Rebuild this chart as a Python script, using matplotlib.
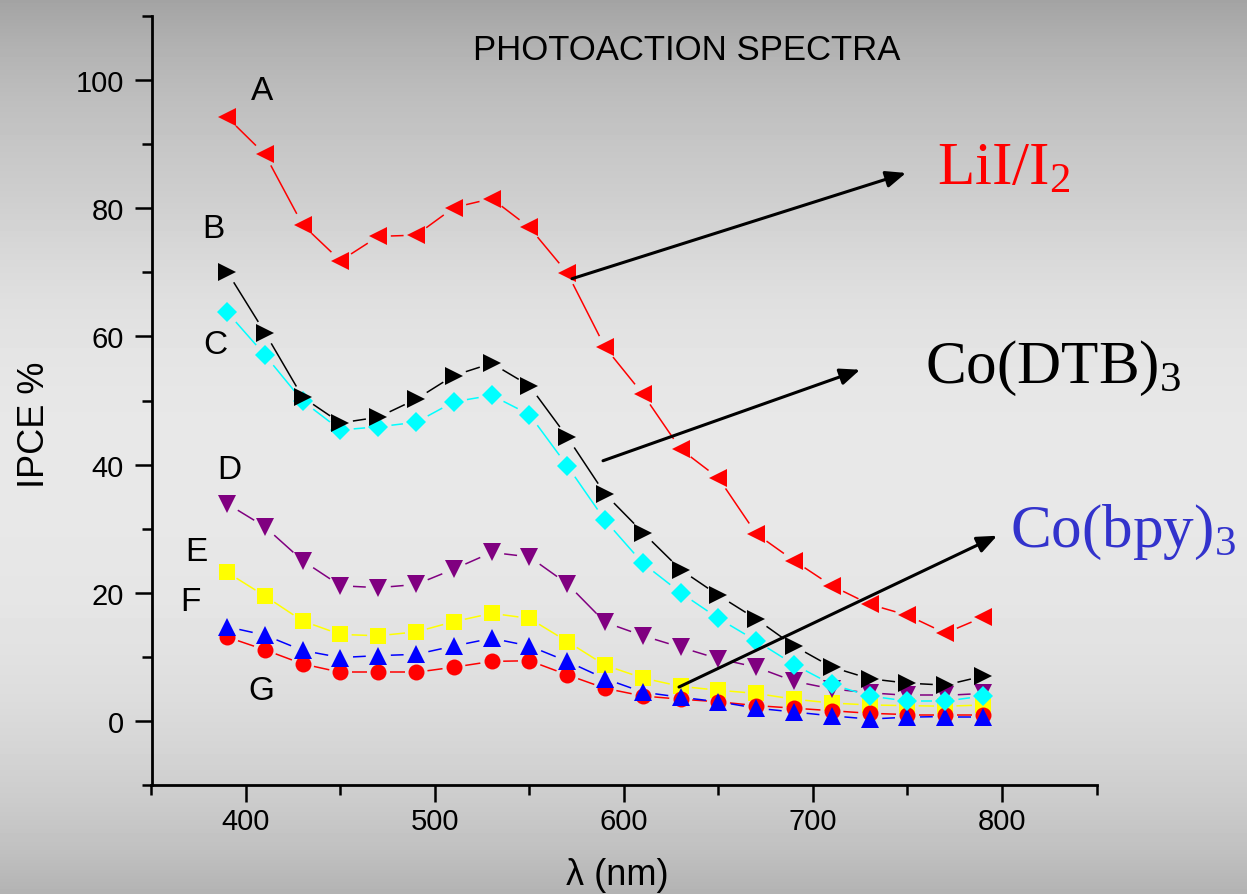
import numpy as np
import matplotlib
matplotlib.use('Agg')
import matplotlib.pyplot as plt
from matplotlib.collections import LineCollection
from matplotlib.ticker import MultipleLocator

plt.rcParams['font.family'] = ['Liberation Sans', 'DejaVu Sans']
plt.rcParams['mathtext.fontset'] = 'custom'
plt.rcParams['mathtext.rm'] = 'Liberation Serif'
plt.rcParams['mathtext.it'] = 'Liberation Serif:italic'

# ---------------- data ----------------
wavelength = [390, 410, 430, 450, 470, 490, 510, 530, 550, 570, 590,
              610, 630, 650, 670, 690, 710, 730, 750, 770, 790]
ipce_A = [94.2, 88.4, 77.4, 71.8, 75.6, 75.8, 80.1, 81.5, 77.0, 69.9, 58.3,
          51.0, 42.4, 37.9, 29.2, 25.0, 21.1, 18.2, 16.5, 13.7, 16.2]
ipce_B = [70.1, 60.6, 50.5, 46.5, 47.4, 50.2, 53.9, 55.8, 52.3, 44.3, 35.4,
          29.4, 23.6, 19.6, 15.9, 11.7, 8.4, 6.6, 5.9, 5.6, 7.0]
ipce_C = [63.8, 57.1, 49.9, 45.4, 45.9, 46.6, 49.8, 50.8, 47.8, 39.8, 31.3,
          24.6, 20.0, 16.0, 12.5, 8.8, 5.7, 3.9, 3.1, 3.1, 3.9]
ipce_D = [33.9, 30.3, 25.0, 21.1, 20.8, 21.3, 23.7, 26.3, 25.6, 21.4, 15.4,
          13.3, 11.5, 9.7, 8.4, 6.2, 5.0, 4.4, 4.0, 4.0, 4.3]
ipce_E = [23.2, 19.5, 15.6, 13.5, 13.3, 13.9, 15.5, 16.8, 16.0, 12.4, 8.7,
          6.7, 5.4, 4.8, 4.3, 3.4, 2.8, 2.5, 2.4, 2.3, 2.5]
ipce_F = [14.7, 13.4, 11.0, 9.9, 10.2, 10.4, 11.7, 12.9, 11.7, 9.3, 6.6,
          4.5, 3.7, 3.0, 2.0, 1.4, 0.8, 0.3, 0.6, 0.7, 0.7]
ipce_G = [13.1, 11.1, 8.9, 7.6, 7.6, 7.6, 8.4, 9.3, 9.4, 7.2, 5.1,
          3.9, 3.4, 3.0, 2.4, 2.0, 1.6, 1.2, 1.0, 1.0, 1.0]

curve_letters = ['A', 'B', 'C', 'D', 'E', 'F', 'G']
letter_x = [408.5, 383.0, 383.5, 391.0, 373.5, 370.5, 408.0]
letter_y = [98.3, 76.8, 58.8, 39.3, 26.4, 18.6, 4.7]

electrolyte_names = [r'LiI/I$_2$', r'Co(DTB)$_3$', r'Co(bpy)$_3$']
electrolyte_colors = ['#ff0000', '#000000', '#3333cc']
electrolyte_x = [765.5, 759.5, 804.0]
electrolyte_y = [83.8, 52.9, 27.3]

arrow_start_x = [572.5, 588.9, 629.1]
arrow_start_y = [69.0, 40.6, 5.3]
arrow_end_x = [749.2, 724.9, 797.4]
arrow_end_y = [85.5, 54.8, 28.9]

title_text = 'PHOTOACTION SPECTRA'
x_label = 'λ (nm)'
y_label = 'IPCE %'

# ---------------- figure ----------------
W, H, DPI = 12.47, 8.95, 100
fig = plt.figure(figsize=(W, H), dpi=DPI)

# gradient background
bg = fig.add_axes([0, 0, 1, 1], zorder=-10)
rows = np.arange(895)
grad_pos = [0, 50, 100, 150, 200, 250, 300, 350, 400, 450, 500, 550, 600,
            650, 700, 750, 800, 850, 895]
grad_val = [0.64, 0.70, 0.745, 0.78, 0.81, 0.845, 0.875, 0.895, 0.905, 0.91,
            0.91, 0.905, 0.90, 0.885, 0.865, 0.835, 0.80, 0.755, 0.70]
col = np.interp(rows, grad_pos, grad_val)
grad = np.repeat(col[:, None], 1247, axis=1)
bg.imshow(grad, aspect='auto', cmap='gray', vmin=0, vmax=1,
          extent=[0, 1, 0, 1], interpolation='none')
bg.axis('off')

ax = fig.add_axes([151.5 / 1247, 1 - 786.1 / 895, 945 / 1247, 769.2 / 895])
ax.set_facecolor('none')
ax.set_xlim(350, 850)
ax.set_ylim(-10, 110)

for side in ['top', 'right']:
    ax.spines[side].set_visible(False)
for side in ['left', 'bottom']:
    ax.spines[side].set_linewidth(2.0)

ax.xaxis.set_major_locator(MultipleLocator(100))
ax.xaxis.set_minor_locator(MultipleLocator(50))
ax.yaxis.set_major_locator(MultipleLocator(20))
ax.yaxis.set_minor_locator(MultipleLocator(10))
ax.tick_params(which='major', length=12, width=1.8, direction='out',
               labelsize=21, color='black')
ax.tick_params(which='minor', length=7, width=1.8, direction='out')
ax.tick_params(axis='x', which='major', pad=4)
ax.tick_params(axis='y', which='major', pad=8)

ax.set_xlabel(x_label, fontsize=26)
ax.set_ylabel(y_label, fontsize=26)
ax.xaxis.set_label_coords(0.493, -0.093)
ax.yaxis.set_label_coords(-0.105, 0.47)

ax.text(633.3, 104.8, title_text, fontsize=25, ha='center', va='center')


def draw_series(x, y, color, marker, ms, z, gap_factor=0.5):
    pts = ax.transData.transform(np.column_stack([x, y]))
    gap = ms * DPI / 72.0 * gap_factor + 3.5
    inv = ax.transData.inverted()
    segs = []
    for p0, p1 in zip(pts[:-1], pts[1:]):
        v = p1 - p0
        L = np.hypot(v[0], v[1])
        if L > 2 * gap + 1:
            u = v / L
            segs.append(inv.transform(np.array([p0 + u * gap, p1 - u * gap])))
    ax.add_collection(LineCollection(segs, colors=color, linewidths=1.1,
                                     zorder=z))
    ax.plot(x, y, linestyle='none', marker=marker, ms=ms, color=color,
            mec=color, mew=0, zorder=z + 0.5, clip_on=False)


draw_series(wavelength, ipce_E, '#ffff00', 's', 11, 3)
draw_series(wavelength, ipce_G, '#ff0000', 'o', 11.5, 4)
draw_series(wavelength, ipce_F, '#0000ff', '^', 13, 5)
draw_series(wavelength, ipce_D, '#800080', 'v', 13, 6)
draw_series(wavelength, ipce_C, '#00ffff', 'D', 10, 7, gap_factor=0.7)
draw_series(wavelength, ipce_B, '#000000', '>', 13, 8)
draw_series(wavelength, ipce_A, '#ff0000', '<', 13, 9)

for s, lx, ly in zip(curve_letters, letter_x, letter_y):
    ax.text(lx, ly, s, fontsize=24, ha='center', va='center')

for sx, sy, ex, ey in zip(arrow_start_x, arrow_start_y, arrow_end_x, arrow_end_y):
    ax.annotate('', xy=(ex, ey), xytext=(sx, sy),
                arrowprops=dict(arrowstyle='-|>,head_length=0.6,head_width=0.25',
                                color='black', lw=2.2, mutation_scale=20,
                                shrinkA=0, shrinkB=0), zorder=12)

for name, c, tx, ty in zip(electrolyte_names, electrolyte_colors,
                           electrolyte_x, electrolyte_y):
    ax.text(tx, ty, name, fontsize=44, color=c, ha='left', va='baseline',
            family='Liberation Serif', zorder=12)

fig.savefig('out.png', dpi=DPI)
